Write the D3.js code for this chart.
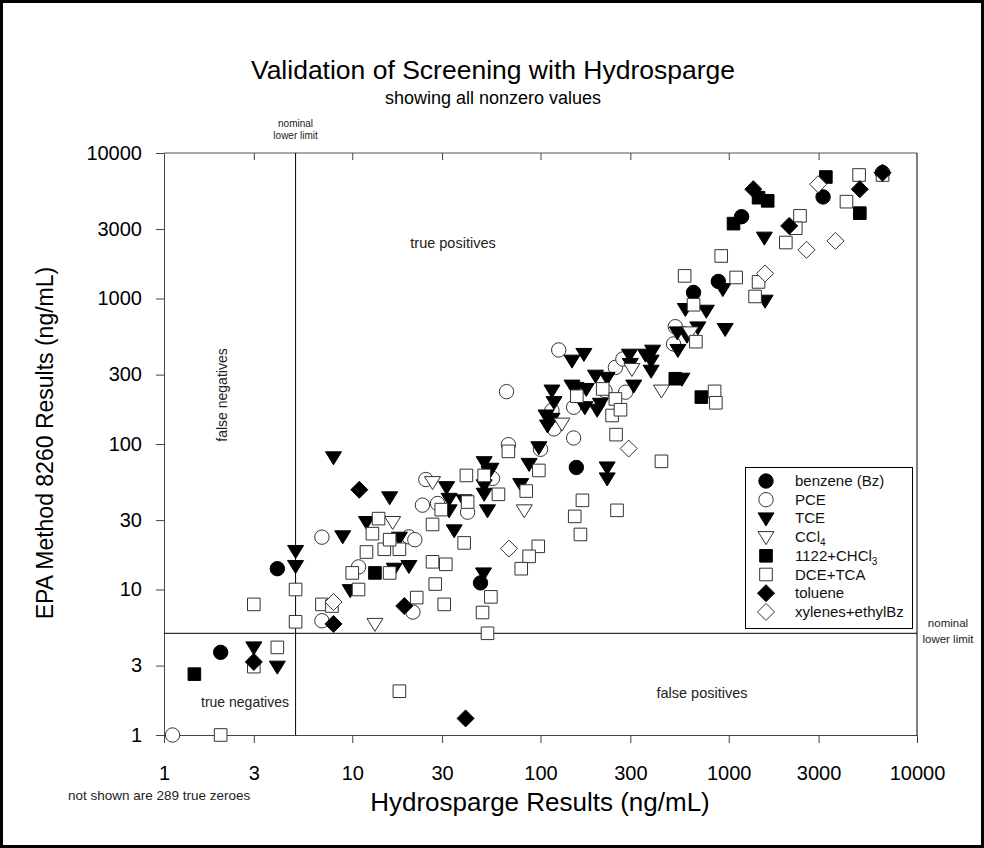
<!DOCTYPE html>
<html><head><meta charset="utf-8">
<script src="https://cdn.jsdelivr.net/npm/d3@7"></script>
<style>
body{margin:0;background:#fff;}
svg{display:block;font-family:"Liberation Sans",Arial,sans-serif;}
</style></head>
<body>
<svg id="chart" width="984" height="848"></svg>
<script>
// ---- data (x = Hydrosparge ng/mL, y = EPA 8260 ng/mL) ----
const tickValues = [1,3,10,30,100,300,1000,3000,10000];
const seriesNames = ["benzene (Bz)","PCE","TCE","CCl4","1122+CHCl3","DCE+TCA","toluene","xylenes+ethylBz"];
const benzene = [[2,3.7],[4,13.9],[48,11.1],[155,69],[650,1100],[880,1310],[1170,3650],[3170,4990],[6560,7330]];
const pce = [[1.11,1],[6.9,22.9],[6.9,6.1],[21,7],[10.8,14.3],[20,23],[21.5,22],[23.6,38],[24.6,57],[28.4,39],[41,34],[55.6,58],[67.5,99],[100,92],[66,229],[115,170],[118,127],[125,443],[150,179],[150,110],[220,233],[283,227],[250,336],[274,384],[520,640],[509,487]];
const tce = [[3,4],[4,2.95],[5,14.5],[5,18.4],[8.9,23.2],[9.75,9.9],[16.7,13.9],[20,14.5],[17.8,22.7],[11.9,29.1],[7.95,81],[15.8,43],[31.7,50.5],[32.7,42],[32.7,35],[34.8,25.5],[49.8,12.9],[50.2,75],[54.5,67.6],[53.3,64],[50.2,52],[50.2,45.5],[52.3,35],[78.5,53],[87,73],[98,95],[115,233],[118,194],[107,157],[115,149],[109,134],[147,374],[147,252],[226,69],[226,58],[39.3,41],[154,243],[175,239],[172,179],[200,172],[208,189],[196,295],[226,285],[170,416],[297,411],[300,355],[313,252],[361,411],[394,438],[387,374],[387,319],[537,443],[533,585],[600,555],[685,633],[588,847],[760,824],[957,617],[930,1160],[1546,2620],[1560,966],[564,281]];
const ccl4 = [[13.2,5.8],[16.4,29.1],[26.7,54.7],[82,35],[130,138],[306,328],[439,233],[625,585]];
const chcl3 = [[1.45,2.62],[13.2,13],[520,281],[715,210],[1060,3270],[1440,4930],[1610,4690],[3280,6840],[4970,3860]];
const dce = [[2,1],[3,2.95],[4,4],[17.8,2],[3,7.9],[5,10],[5,6],[6.9,7.9],[7.8,7.7],[30.8,7.9],[27.6,10.9],[26.7,15.5],[31.4,14.9],[22,8.8],[10.8,10],[10,13],[15.8,13],[11.9,18.1],[14.8,18.9],[17.8,18.9],[15.8,22],[12.8,24.2],[13.8,30.7],[26.7,28],[29.7,35.4],[39.3,20.9],[40.4,60.8],[50.2,60.8],[59.8,45.1],[41,39.9],[84,47.5],[98,65.8],[67.5,89],[52.3,5],[49.2,6.95],[54.5,8.9],[97.3,19.8],[87,16.9],[79,13.9],[167,41],[152,31.8],[163,23.9],[255,35],[439,76],[252,116],[156,213],[214,239],[250,204],[240,157],[266,172],[669,505],[650,906],[583,1430],[912,1960],[1095,1395],[1440,1300],[1380,1033],[841,230],[854,192],[2390,3700],[2270,3040],[2010,2425],[4220,4630],[4925,7060],[6560,7060]];
const toluene = [[3,3.18],[7.95,5.8],[18.9,7.7],[10.9,48.5],[40,1.3],[1350,5640],[2094,3156],[4966,5636],[6560,7330]];
const xylenes = [[7.95,8.2],[68,19.1],[294,93],[1560,1486],[2589,2160],[3690,2489],[2985,6098]];
const nominalLimit = 5;

// ---- layout ----
const svg = d3.select("#chart");
const L = 164, R = 917, T = 153, B = 735;
const x = d3.scaleLog().domain([1,10000]).range([L,R]);
const y = d3.scaleLog().domain([1,10000]).range([B,T]);

// outer border
svg.append("rect").attr("x",1.5).attr("y",1.5).attr("width",981).attr("height",845)
  .attr("fill","none").attr("stroke","#000").attr("stroke-width",3);

// titles
svg.append("text").attr("x",493).attr("y",79).attr("text-anchor","middle")
  .attr("font-size",26.5).text("Validation of Screening with Hydrosparge");
svg.append("text").attr("x",493).attr("y",104).attr("text-anchor","middle")
  .attr("font-size",18).text("showing all nonzero values");

// frame (top and right)
svg.append("line").attr("x1",L).attr("x2",R).attr("y1",T).attr("y2",T).attr("stroke","#555");
svg.append("line").attr("x1",R).attr("x2",R).attr("y1",T).attr("y2",B).attr("stroke","#000");

// axes
const fmt = d3.format("d");
const xAxis = svg.append("g").attr("transform",`translate(0,${B})`)
  .call(d3.axisBottom(x).tickValues(tickValues).tickFormat(fmt).tickSizeInner(8).tickSizeOuter(0).tickPadding(23));
const yAxis = svg.append("g").attr("transform",`translate(${L},0)`)
  .call(d3.axisLeft(y).tickValues(tickValues).tickFormat(fmt).tickSizeInner(8).tickSizeOuter(0).tickPadding(14));
const topAxis = svg.append("g").attr("transform",`translate(0,${T})`)
  .call(d3.axisTop(x).tickValues(tickValues.slice(1,-1)).tickFormat("").tickSizeInner(-7).tickSizeOuter(0));
[xAxis,yAxis,topAxis].forEach(g=>{
  g.select(".domain").attr("stroke","#444");
  g.selectAll(".tick line").attr("stroke","#444");
  g.selectAll(".tick text").attr("font-size",20).attr("fill","#000").attr("font-family","Liberation Sans, Arial, sans-serif");
});
topAxis.select(".domain").remove();

// nominal limit lines
svg.append("line").attr("x1",x(nominalLimit)).attr("x2",x(nominalLimit)).attr("y1",T).attr("y2",B).attr("stroke","#000");
svg.append("line").attr("x1",L).attr("x2",R).attr("y1",y(nominalLimit)).attr("y2",y(nominalLimit)).attr("stroke","#000");

// small labels
const small = (tx,ty,txt,fs,anchor)=>svg.append("text").attr("x",tx).attr("y",ty)
  .attr("font-size",fs).attr("text-anchor",anchor||"middle").attr("fill","#222").text(txt);
small(x(nominalLimit),127,"nominal",10);
small(x(nominalLimit),139,"lower limit",10);
small(948,627,"nominal",11.5);
small(948,643,"lower limit",11.5);
small(453,248,"true positives",14.5);
small(245,707,"true negatives",14);
small(702,698,"false positives",14.5);
svg.append("text").attr("transform","translate(227,395) rotate(-90)").attr("text-anchor","middle")
  .attr("font-size",14).attr("fill","#222").text("false negatives");
small(68,800,"not shown are 289 true zeroes",13.5,"start");

// axis titles
svg.append("text").attr("x",540).attr("y",811).attr("text-anchor","middle").attr("font-size",26)
  .text("Hydrosparge Results (ng/mL)");
svg.append("text").attr("transform","translate(53,443) rotate(-90)").attr("text-anchor","middle")
  .attr("font-size",23).text("EPA Method 8260 Results (ng/mL)");

// marker shapes
const circlePath = d3.symbol().type(d3.symbolCircle).size(Math.PI*7.2*7.2)();
const squarePath = "M-6.3,-6.3H6.3V6.3H-6.3Z";
const triPath = "M-8,-5.5H8L0,7.5Z";
const diamondPath = "M0,-8.5L8.5,0L0,8.5L-8.5,0Z";
const styles = [
  {data:benzene, path:circlePath, fill:"#000", stroke:"#000"},
  {data:pce, path:circlePath, fill:"#fff", stroke:"#333"},
  {data:tce, path:triPath, fill:"#000", stroke:"#000"},
  {data:ccl4, path:triPath, fill:"#fff", stroke:"#333"},
  {data:chcl3, path:squarePath, fill:"#000", stroke:"#000"},
  {data:dce, path:squarePath, fill:"#fff", stroke:"#333"},
  {data:toluene, path:diamondPath, fill:"#000", stroke:"#000"},
  {data:xylenes, path:diamondPath, fill:"#fff", stroke:"#333"}
];
const pts = svg.append("g");
styles.forEach(s=>{
  pts.append("g").selectAll("path").data(s.data).join("path")
    .attr("d",s.path).attr("transform",d=>`translate(${x(d[0])},${y(d[1])})`)
    .attr("fill",s.fill).attr("stroke",s.stroke).attr("stroke-width",1);
});

// legend
const lg = svg.append("g");
lg.append("rect").attr("x",745.5).attr("y",467.5).attr("width",167).attr("height",161)
  .attr("fill","#fff").attr("stroke","#000");
styles.forEach((s,i)=>{
  const cy = 481 + i*18.7;
  lg.append("path").attr("d",s.path).attr("transform",`translate(766,${cy})`)
    .attr("fill",s.fill).attr("stroke",s.stroke);
  const t = lg.append("text").attr("x",795).attr("y",cy+5).attr("font-size",15).attr("fill","#111");
  const name = seriesNames[i];
  if(name==="CCl4"){ t.append("tspan").text("CCl"); t.append("tspan").attr("dy",4).attr("font-size",10).text("4"); }
  else if(name==="1122+CHCl3"){ t.append("tspan").text("1122+CHCl"); t.append("tspan").attr("dy",4).attr("font-size",10).text("3"); }
  else t.text(name);
});
</script>
</body></html>
